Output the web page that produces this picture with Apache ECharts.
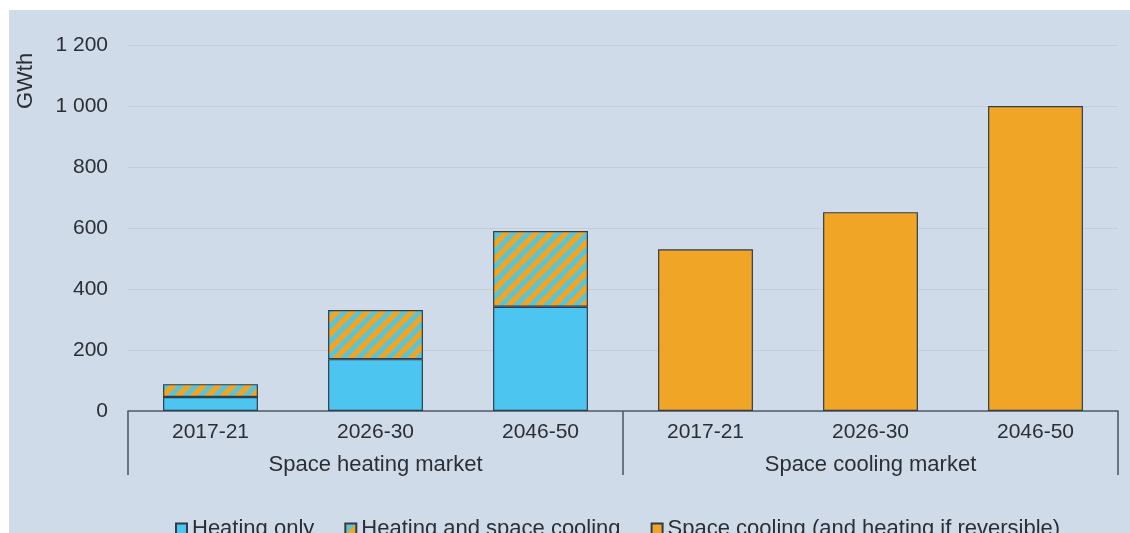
<!DOCTYPE html>
<html>
<head>
<meta charset="utf-8">
<script src="https://cdn.jsdelivr.net/npm/echarts@6/dist/echarts.min.js"></script>
<style>
  html, body { margin: 0; padding: 0; background: #ffffff; }
  #chart { position: absolute; left: 9px; top: 10px; width: 1121px; height: 523px; background: #d0dbe9; }
</style>
</head>
<body>
<div id="chart"></div>
<script>
// Periods shown for each market
const periods = ['2017-21', '2026-30', '2046-50', '2017-21', '2026-30', '2046-50'];
const markets = ['Space heating market', 'Space cooling market'];

// Installed capacity, GWth ('-' = no bar in that slot)
const heatingOnly = [46, 170, 342, '-', '-', '-'];
const heatingAndCooling = [42, 161, 248, '-', '-', '-'];
const spaceCooling = ['-', '-', '-', 530, 652, 1000];

const seriesNames = ['Heating only', 'Heating and space cooling', 'Space cooling (and heating if reversible)'];

const BLUE = '#4cc6f1';
const ORANGE = '#f0a527';
const TEAL = '#5ac4d6';
const EDGE = '#2f3d4b';
const TEXT = '#2b2f35';
const FONT = '"Liberation Sans", Arial, sans-serif';

// Diagonal orange/teal stripe fill for the combined heating + cooling segment
function stripePattern() {
  const s = 15;
  const c = document.createElement('canvas');
  c.width = s; c.height = s;
  const g = c.getContext('2d');
  g.fillStyle = TEAL;
  g.fillRect(0, 0, s, s);
  g.strokeStyle = ORANGE;
  g.lineWidth = s / Math.SQRT2 / 2 + 0.5;
  for (let k = -1; k <= 1; k++) {
    g.beginPath();
    g.moveTo(k * s - 1, s + 1);
    g.lineTo(k * s + s + 1, -1);
    g.stroke();
  }
  return { image: c, repeat: 'repeat' };
}

const fmt = v => String(v).replace(/\B(?=(\d{3})+(?!\d))/g, ' ');

const chart = echarts.init(document.getElementById('chart'), null, { renderer: 'canvas' });

const barStyle = color => ({ color: color, borderColor: EDGE, borderWidth: 1.2 });

chart.setOption({
  animation: false,
  textStyle: { fontFamily: FONT },
  grid: { left: 119, right: 12, top: 35, bottom: 122 },
  legend: {
    left: 161,
    top: 503,
    itemWidth: 11,
    itemHeight: 11,
    itemGap: 30,
    icon: 'rect',
    textStyle: { fontSize: 22, color: TEXT, fontFamily: FONT, padding: [0, 0, 0, 0] },
    data: seriesNames
  },
  graphic: [{
    type: 'text',
    x: 17,
    y: 71,
    rotation: Math.PI / 2,
    style: {
      text: 'GWth',
      font: '22px ' + FONT,
      fill: TEXT,
      align: 'center',
      verticalAlign: 'middle'
    }
  }],
  xAxis: [{
    type: 'category',
    data: periods,
    position: 'bottom',
    axisLine: { show: true, lineStyle: { color: '#525c68', width: 1.6 } },
    axisTick: { show: false },
    axisLabel: { fontSize: 21, color: TEXT, margin: 11, fontFamily: FONT }
  }, {
    type: 'category',
    data: markets,
    position: 'bottom',
    axisLine: { show: false },
    axisTick: { show: true, length: 64, lineStyle: { color: '#525c68', width: 1.6 } },
    axisLabel: { fontSize: 22, color: TEXT, margin: 43, fontFamily: FONT },
    splitLine: { show: false }
  }],
  yAxis: {
    type: 'value',
    min: 0,
    max: 1200,
    interval: 200,
    axisLine: { show: false },
    axisTick: { show: false },
    axisLabel: { fontSize: 21, color: TEXT, margin: 20, formatter: fmt, fontFamily: FONT },
    splitLine: { lineStyle: { color: '#c3cdda', width: 1.2 } }
  },
  series: [{
    name: seriesNames[0],
    type: 'bar',
    stack: 'cap',
    barWidth: '57.5%',
    itemStyle: barStyle(BLUE),
    data: heatingOnly
  }, {
    name: seriesNames[1],
    type: 'bar',
    stack: 'cap',
    barWidth: '57.5%',
    itemStyle: barStyle(stripePattern()),
    data: heatingAndCooling
  }, {
    name: seriesNames[2],
    type: 'bar',
    stack: 'cap',
    barWidth: '57.5%',
    itemStyle: barStyle(ORANGE),
    data: spaceCooling
  }]
});
</script>
</body>
</html>
